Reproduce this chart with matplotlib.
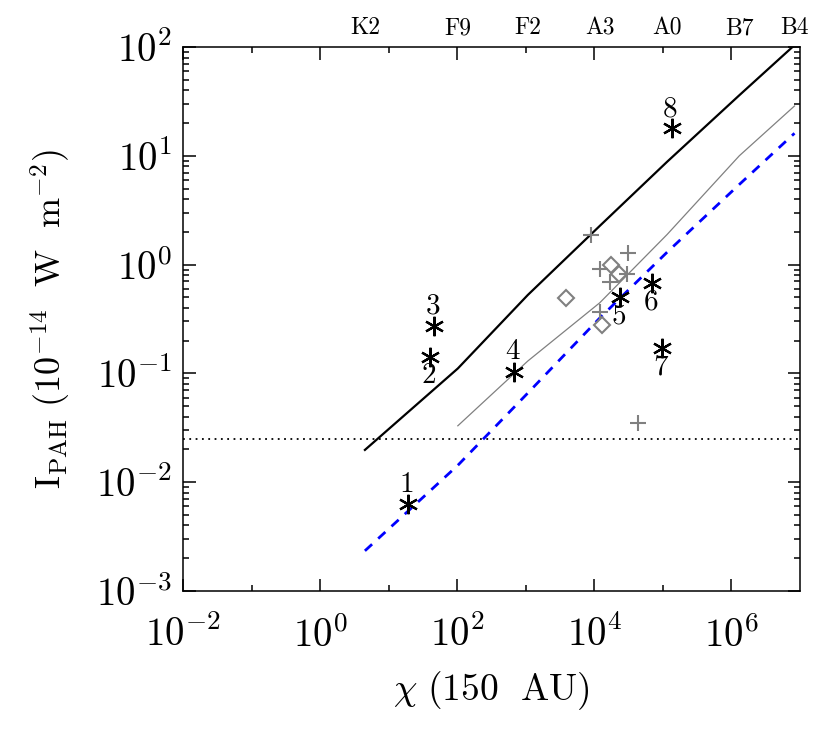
import numpy as np
import matplotlib.pyplot as plt
import matplotlib.transforms as mtransforms
from matplotlib.ticker import FixedLocator, NullFormatter, LogLocator, LogFormatterSciNotation

plt.rcParams['font.family'] = 'cmr10'
plt.rcParams['mathtext.fontset'] = 'cm'
plt.rcParams['axes.formatter.use_mathtext'] = True

# spectral types along the top axis and the model curves at those chi values
spec_types = ['K2', 'F9', 'F2', 'A3', 'A0', 'B7', 'B4']
chi_spec = [4.5, 102, 1070, 12000, 115000, 1.3e6, 8.3e6]
i_upper = [0.0198, 0.111, 0.526, 2.27, 8.81, 36.0, 104.0]
i_lower = [0.00234, 0.0143, 0.066, 0.323, 1.30, 5.45, 16.1]
chi_mid = chi_spec[1:]
i_mid = [0.033, 0.130, 0.446, 1.89, 10.0, 28.7]

# numbered sources
star_ids = ['1', '2', '3', '4', '5', '6', '7', '8']
chi_star = [19.3, 40.1, 46.4, 679, 23660, 70000, 95900, 134000]
i_star = [0.0063, 0.1426, 0.273, 0.104, 0.507, 0.673, 0.170, 17.9]
# label placement: 1 above, -1 below
star_lab_side = [1, -1, 1, 1, -1, -1, -1, 1]

# other samples
chi_plus = [8850, 31260, 12080, 30200, 16900, 12080, 43800]
i_plus = [1.87, 1.27, 0.906, 0.82, 0.697, 0.369, 0.0348]
chi_diam = [3820, 17300, 22850, 12790]
i_diam = [0.49, 0.99, 0.82, 0.279]

pah_limit = 0.025

fig = plt.figure(figsize=(8.3, 7.38), dpi=100)
ax = fig.add_axes([0.2205, 0.1992, 0.7434, 0.7371])
ax.set_xscale('log')
ax.set_yscale('log')
ax.set_xlim(1e-2, 1e7)
ax.set_ylim(1e-3, 1e2)

ax.axhline(pah_limit, color='black', lw=1.3, ls=(0, (1, 2.5)))
ax.plot(chi_spec, i_upper, color='black', lw=1.6)
ax.plot(chi_mid, i_mid, color='gray', lw=0.9)
ax.plot(chi_spec, i_lower, color='blue', lw=2, dashes=(3.5, 3))

ax.plot(chi_plus, i_plus, ls='none', marker='+', ms=12, mew=1.5, color='gray')
ax.plot(chi_diam, i_diam, ls='none', marker='D', ms=8, mew=1.5, mfc='none', mec='gray')
ax.plot(chi_star, i_star, ls='none', marker=(6, 2, 0), ms=14, mew=1.6, color='black')

for lab, x, y, side in zip(star_ids, chi_star, i_star, star_lab_side):
    ax.annotate(lab, (x, y), xytext=(-1, 14 * side), textcoords='offset points',
                ha='center', va='center', fontsize=21)

trans = mtransforms.blended_transform_factory(ax.transData, ax.transAxes)
for lab, x in zip(spec_types, chi_spec):
    ax.text(x, 1.014, lab, transform=trans, ha='center', va='bottom', fontsize=17)

ax.xaxis.set_major_locator(FixedLocator([1e-2, 1e0, 1e2, 1e4, 1e6]))
ax.xaxis.set_minor_locator(FixedLocator([1e-1, 1e1, 1e3, 1e5]))
ax.xaxis.set_major_formatter(LogFormatterSciNotation())
ax.xaxis.set_minor_formatter(NullFormatter())
ax.yaxis.set_major_locator(LogLocator(base=10, numticks=10))
ax.yaxis.set_minor_locator(LogLocator(base=10, subs=np.arange(2, 10), numticks=10))
ax.yaxis.set_minor_formatter(NullFormatter())

ax.tick_params(which='both', direction='in', top=True, right=True, width=1.1)
ax.tick_params(which='major', length=9, labelsize=28)
ax.tick_params(axis='x', which='major', pad=18)
ax.tick_params(axis='y', which='major', pad=8)
ax.tick_params(which='minor', length=4.5)
for s in ax.spines.values():
    s.set_linewidth(1.1)

ax.set_xlabel(r'$\chi\ (150\ \ \mathrm{AU})$', fontsize=27, labelpad=10)
ax.set_ylabel(r'$\mathrm{I_{PAH}}\ (10^{-14}\ \ \mathrm{W}\ \ \mathrm{m}^{-2})$', fontsize=26, labelpad=16)

fig.savefig('out.png', dpi=100)
